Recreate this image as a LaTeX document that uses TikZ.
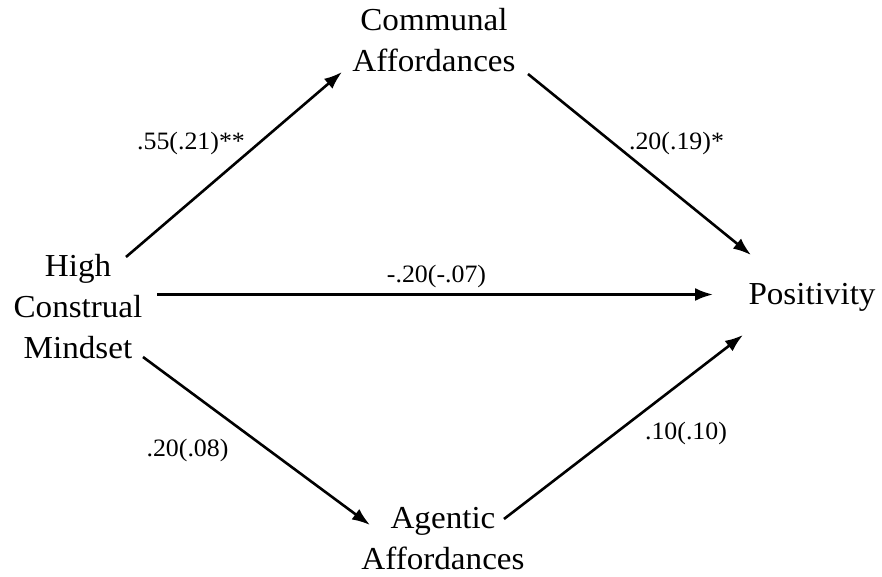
\documentclass[tikz,border=0pt]{standalone}
\usepackage{fontspec}
\setmainfont{Liberation Serif}[FakeStretch=1.035]
\usetikzlibrary{arrows.meta}

\begin{document}
\begin{tikzpicture}[x=1pt, y=1pt, >={Latex[length=18pt,width=13pt]}, line width=2.6pt,
	concept/.style={anchor=base, inner sep=0, align=center, font=\fontsize{32}{41}\selectfont},
	coef/.style={anchor=base, inner sep=0, font=\fontsize{25}{30}\selectfont}]
	\useasboundingbox (0,0) rectangle (882,577);
	\node[concept] (hcm) at (78,218) {High\\Construal\\Mindset};
	\node[concept] (comm) at (434,505) {Communal\\Affordances};
	\node[concept] (agen) at (443,7) {Agentic\\Affordances};
	\node[concept] (pos) at (812,272) {Positivity};
	
	\node[coef] (c1) at (191,427) {.55(.21)**};
	\node[coef] (c2) at (676.5,427) {.20(.19)*};
	\node[coef] (c3) at (436.5,294) {-.20(-.07)};
	\node[coef] (c4) at (187.5,120) {.20(.08)};
	\node[coef] (c5) at (686,137) {.10(.10)};
	
	\path ([shift={(48,102)}]hcm.base) edge[->] ([shift={(-92,0)}]comm.base);
	\path ([shift={(94,-2)}]comm.base) edge[->] ([shift={(-61,50)}]pos.base);
	\path ([shift={(79,64.5)}]hcm.base) edge[->] ([shift={(-99,10.5)}]pos.base);
	\path ([shift={(65,2)}]hcm.base) edge[->] ([shift={(-73,45)}]agen.base);
	\path ([shift={(61,51)}]agen.base) edge[->] ([shift={(-69,-30)}]pos.base);
	
\end{tikzpicture}
\end{document}
